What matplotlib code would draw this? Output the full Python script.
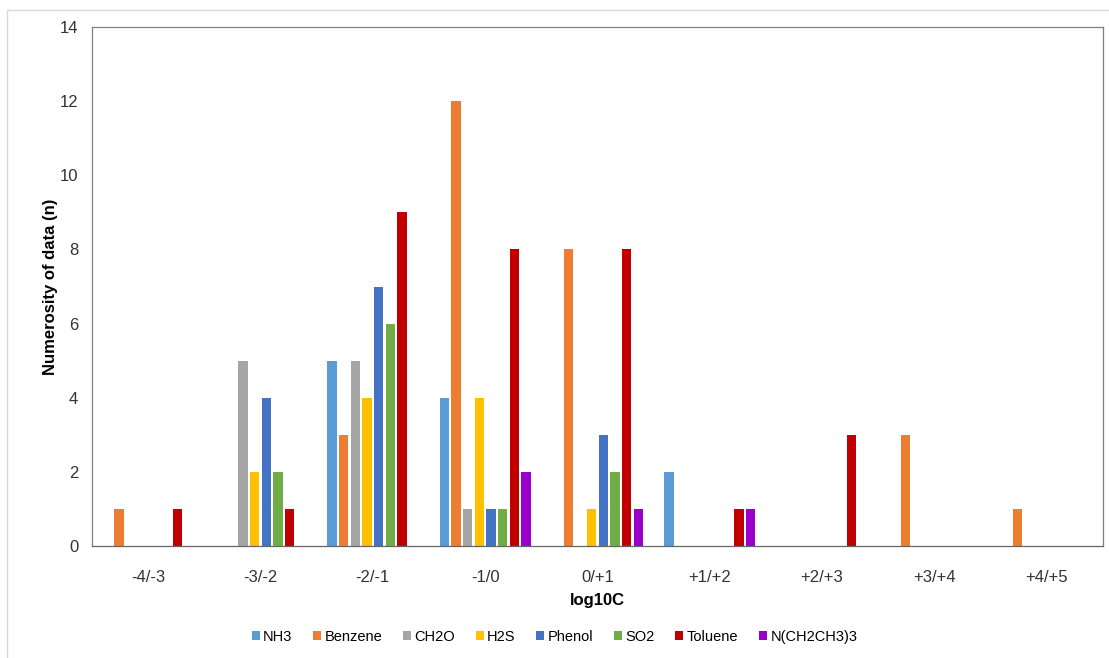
import numpy as np
import matplotlib.pyplot as plt
from matplotlib.patches import Rectangle

plt.rcParams['font.family'] = ['Liberation Sans', 'DejaVu Sans']

categories = ['-4/-3', '-3/-2', '-2/-1', '-1/0', '0/+1', '+1/+2', '+2/+3', '+3/+4', '+4/+5']
series_names = ['NH3', 'Benzene', 'CH2O', 'H2S', 'Phenol', 'SO2', 'Toluene', 'N(CH2CH3)3']
nh3 = [0, 0, 5, 4, 0, 2, 0, 0, 0]
benzene = [1, 0, 3, 12, 8, 0, 0, 3, 1]
ch2o = [0, 5, 5, 1, 0, 0, 0, 0, 0]
h2s = [0, 2, 4, 4, 1, 0, 0, 0, 0]
phenol = [0, 4, 7, 1, 3, 0, 0, 0, 0]
so2 = [0, 2, 6, 1, 2, 0, 0, 0, 0]
toluene = [1, 1, 9, 8, 8, 1, 3, 0, 0]
triethylamine = [0, 0, 0, 2, 1, 1, 0, 0, 0]
colors = ['#5B9BD5', '#ED7D31', '#A5A5A5', '#FFC000', '#4472C4', '#70AD47', '#C00000', '#9900CC']

series = [nh3, benzene, ch2o, h2s, phenol, so2, toluene, triethylamine]

fig = plt.figure(figsize=(11.09, 6.58), dpi=100)
ax = fig.add_axes([0.083, 0.170, 0.9115, 0.789])

x = np.arange(len(categories))
slot = 0.104
width = 0.083
n = len(series)
for i, (vals, name, c) in enumerate(zip(series, series_names, colors)):
    offs = (i - (n - 1) / 2) * slot
    ax.bar(x + offs, vals, width=width, color=c, label=name, zorder=2)

ax.set_xlim(-0.5, len(categories) - 0.5)
ax.set_ylim(0, 14)
ax.set_yticks(range(0, 15, 2))
ax.set_xticks(x)
ax.set_xticklabels(categories)
ax.tick_params(axis='both', length=0, labelsize=12, colors='#333333')
ax.tick_params(axis='x', pad=17)
ax.tick_params(axis='y', pad=10)
for s in ax.spines.values():
    s.set_color('#7f7f7f')
    s.set_linewidth(0.9)
ax.spines['bottom'].set_color('#666666')

ax.set_xlabel('log10C', fontsize=12, fontweight='bold', labelpad=6)
ax.set_ylabel('Numerosity of data (n)', fontsize=12, fontweight='bold', labelpad=1)

leg = fig.legend(loc='center', bbox_to_anchor=(0.5, 0.032), ncol=8, frameon=False,
                 fontsize=10.5, handlelength=0.55, handleheight=0.55,
                 handletextpad=0.25, columnspacing=1.4)

# light outer chart border
fig.patches.append(Rectangle((0.006, -0.01), 1.0, 0.995, transform=fig.transFigure,
                             fill=False, edgecolor='#d9d9d9', linewidth=1.0))

fig.savefig('out.png', dpi=100)
